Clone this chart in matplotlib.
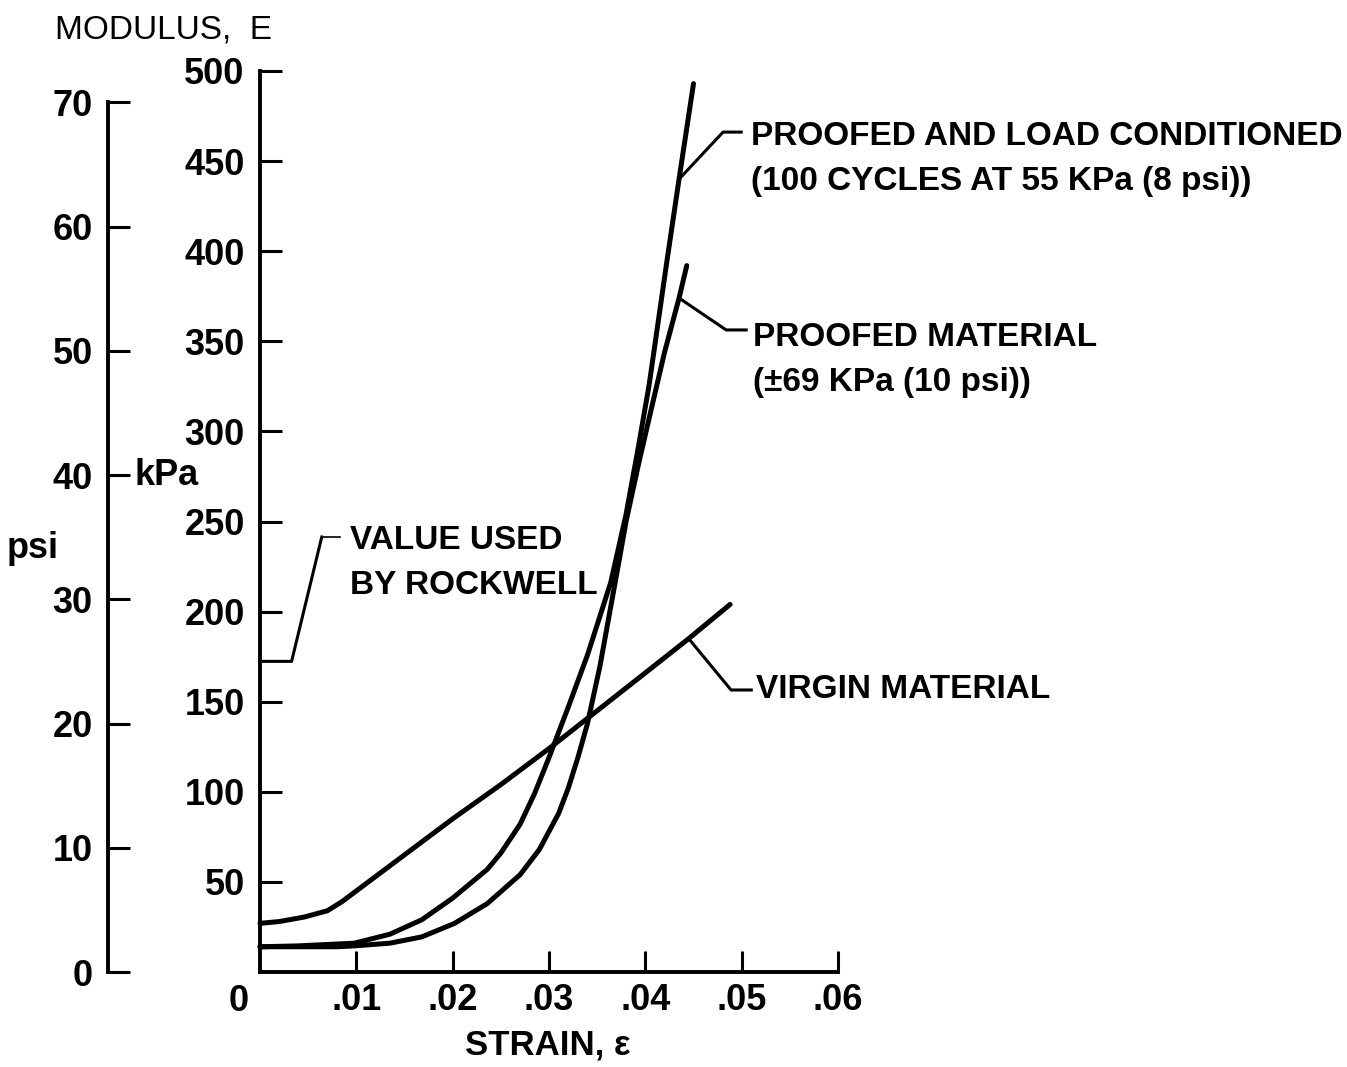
import matplotlib
matplotlib.use('Agg')
import matplotlib.pyplot as plt
from matplotlib import font_manager

# fonts: narrow face for the numbers if it is there
installed = {f.name for f in font_manager.fontManager.ttflist}
NUM_FONT = 'Liberation Sans Narrow' if 'Liberation Sans Narrow' in installed else 'Liberation Sans'
LBL_FONT = 'Liberation Sans'
plt.rcParams['font.family'] = [NUM_FONT, 'DejaVu Sans']

KPA_PER_PSI = 6.895

# Data (strain, modulus in kPa)
strain_virgin = [0.0, 0.002, 0.0046, 0.007, 0.0085, 0.010, 0.015, 0.020, 0.025,
                 0.030, 0.035, 0.040, 0.0445, 0.0488]
kpa_virgin = [27, 28, 30.5, 34, 39, 45, 65, 85, 104, 124, 145, 166, 185, 204]

strain_proofed = [0.0, 0.008, 0.0098, 0.0135, 0.0168, 0.0202, 0.0236, 0.027, 0.029,
                  0.031, 0.032, 0.033, 0.034, 0.0353, 0.0373, 0.038, 0.0393,
                  0.0406, 0.042, 0.0435, 0.0443]
kpa_proofed = [14, 14, 14.5, 16, 19.5, 27, 38, 54, 68, 88, 102, 119, 138, 170, 229,
               250, 282, 312, 344, 374, 392]

strain_loaded = [0.0, 0.004, 0.0098, 0.0135, 0.0168, 0.020, 0.0236, 0.025, 0.027,
                 0.0285, 0.030, 0.032, 0.034, 0.0364, 0.038, 0.0393, 0.0404,
                 0.0422, 0.0435, 0.045]
kpa_loaded = [14, 14.5, 16, 21, 29, 41, 57, 66, 82, 99, 119, 147, 176, 216, 254,
              292, 326, 393, 440, 493]

rockwell_psi = 25

x_ticks = [0.01, 0.02, 0.03, 0.04, 0.05, 0.06]
x_tick_labels = ['.01', '.02', '.03', '.04', '.05', '.06']
kpa_ticks = [50, 100, 150, 200, 250, 300, 350, 400, 450, 500]
psi_ticks = [0, 10, 20, 30, 40, 50, 60, 70]

W, H = 1347, 1067
fig = plt.figure(figsize=(W / 100, H / 100), dpi=100)
ax = fig.add_axes([260 / W, 1 - 972 / H, 578 / W, 901 / H])
ax.patch.set_visible(False)

lw = 3.6
for xs, ys in [(strain_virgin, kpa_virgin), (strain_proofed, kpa_proofed),
               (strain_loaded, kpa_loaded)]:
    ax.plot(xs, ys, color='black', lw=lw, solid_capstyle='round',
            solid_joinstyle='round', clip_on=False)

ax.set_xlim(0, 0.06)
ax.set_ylim(0, 500)
for s in ['top', 'right']:
    ax.spines[s].set_visible(False)
for s in ['left', 'bottom']:
    ax.spines[s].set_linewidth(2.8)

ax.set_xticks(x_ticks)
ax.set_xticklabels(x_tick_labels)
ax.set_yticks(kpa_ticks)
ax.set_yticklabels([str(v) for v in kpa_ticks])
ax.tick_params(axis='y', direction='in', length=16, width=2.2, pad=11, labelsize=26)
ax.tick_params(axis='x', direction='in', length=15, width=2.2, pad=8, labelsize=26)
for t in ax.get_xticklabels() + ax.get_yticklabels():
    t.set_fontweight('bold')

# origin label
ax.annotate('0', xy=(0, 0), xytext=(-15, -21), textcoords='offset points',
            ha='center', va='center', fontsize=26, fontweight='bold')

# psi scale on the far left
ax2 = fig.add_axes([108 / W, 1 - 972 / H, 60 / W, 901 / H])
ax2.patch.set_visible(False)
ax2.set_ylim(0, 500 / KPA_PER_PSI)
for s in ['top', 'right', 'bottom']:
    ax2.spines[s].set_visible(False)
ax2.spines['left'].set_linewidth(2.8)
ax2.spines['left'].set_bounds(0, 70)
ax2.set_xticks([])
ax2.set_yticks(psi_ticks)
ax2.set_yticklabels([str(v) for v in psi_ticks])
ax2.tick_params(axis='y', direction='in', length=16, width=2.2, pad=11, labelsize=26)
for t in ax2.get_yticklabels():
    t.set_fontweight('bold')
ax2.annotate('kPa', xy=(0, 40), xycoords=ax2.get_yaxis_transform(),
             xytext=(19, 0), textcoords='offset points', ha='left', va='center',
             fontsize=26, fontweight='bold')
fig.text(33 / W, 1 - 548 / H, 'psi', ha='center', va='center', fontsize=26,
         fontweight='bold')

fig.text(55 / W, 1 - 30 / H, 'MODULUS,  E', ha='left', va='center', fontsize=24,
         family=LBL_FONT)
fig.text(548 / W, 1 - 1045 / H, 'STRAIN, ε', ha='center', va='center', fontsize=25,
         fontweight='bold', family=LBL_FONT)

# leaders and labels
lead = dict(color='black', lw=2.2, clip_on=False, solid_joinstyle='round')
lbl = dict(fontsize=24, fontweight='bold', family=LBL_FONT, ha='left', va='center',
           linespacing=1.6)

rk = rockwell_psi * KPA_PER_PSI
ax.plot([0, 0.00328, 0.00641], [rk, rk, 241.4], **lead)
ax.plot([0.00641, 0.00828], [241.4, 241.4], color='black', lw=1.2, clip_on=False)
ax.text(0.00932, 227, 'VALUE USED\nBY ROCKWELL', **lbl)

ax.plot([0.0435, 0.04807, 0.04995], [440, 466.1, 466.1], **lead)
ax.text(0.05099, 451, 'PROOFED AND LOAD CONDITIONED\n(100 CYCLES AT 55 KPa (8 psi))', **lbl)

ax.plot([0.0435, 0.04839, 0.05047], [374, 356.3, 356.3], **lead)
ax.text(0.0512, 339.6, 'PROOFED MATERIAL\n(±69 KPa (10 psi))', **lbl)

ax.plot([0.0445, 0.0489, 0.051], [185, 156.5, 156.5], **lead)
ax.text(0.0515, 156.5, 'VIRGIN MATERIAL', **lbl)

fig.savefig('out.png', dpi=100)
